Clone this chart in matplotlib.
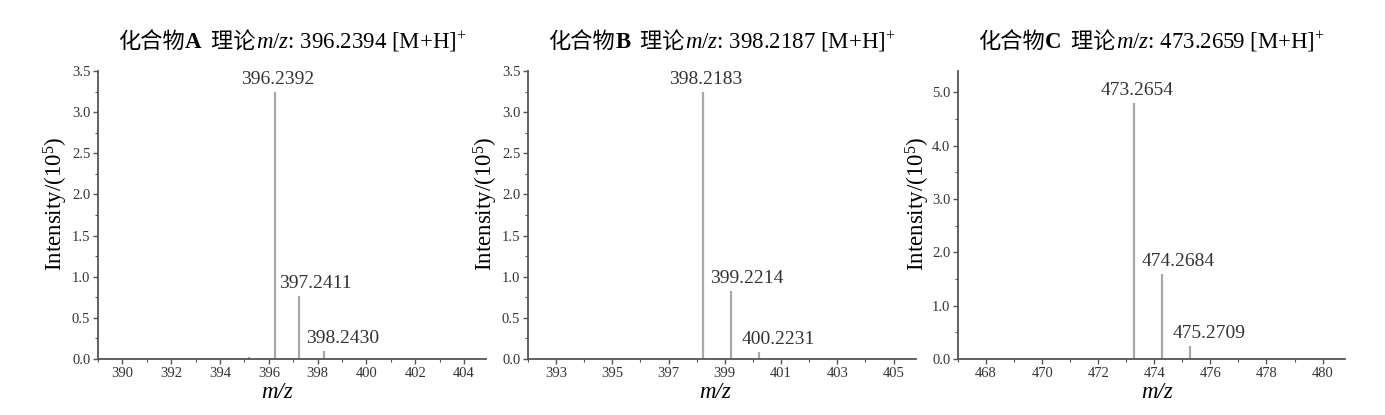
import matplotlib
matplotlib.use("Agg")
import matplotlib.pyplot as plt
from matplotlib.ticker import MultipleLocator

plt.rcParams['font.family'] = ['Liberation Serif', 'Noto Sans CJK SC']
plt.rcParams['mathtext.fontset'] = 'custom'
plt.rcParams['mathtext.rm'] = 'Liberation Serif'
plt.rcParams['mathtext.it'] = 'Liberation Serif:italic'
plt.rcParams['mathtext.bf'] = 'Liberation Serif:bold'

# compound names and theoretical m/z
names = ['A', 'B', 'C']
theo_mz = [396.2394, 398.2187, 473.2659]

# measured peaks (m/z, intensity in 1e5); first three are the labelled isotopes
mz_a = [396.2392, 397.2411, 398.2430, 391.26, 392.19, 393.22, 395.20, 399.24, 399.55, 403.30]
int_a = [3.24, 0.77, 0.10, 0.01, 0.01, 0.01, 0.02, 0.01, 0.01, 0.01]

mz_b = [398.2183, 399.2214, 400.2231, 393.18, 395.14, 396.20, 401.15, 402.20, 403.90]
int_b = [3.24, 0.83, 0.09, 0.01, 0.01, 0.01, 0.01, 0.01, 0.01]

mz_c = [473.2654, 474.2684, 475.2709, 476.24, 479.10]
int_c = [4.80, 1.59, 0.236, 0.02, 0.01]

xlims = [(389.0, 404.9), (392.0, 405.8), (467.0, 480.8)]
ylims = [3.5, 3.5, 5.4]
x_major = [[390, 392, 394, 396, 398, 400, 402, 404],
           [393, 395, 397, 399, 401, 403, 405],
           [468, 470, 472, 474, 476, 478, 480]]
y_major = [[0.0, 0.5, 1.0, 1.5, 2.0, 2.5, 3.0, 3.5],
           [0.0, 0.5, 1.0, 1.5, 2.0, 2.5, 3.0, 3.5],
           [0.0, 1.0, 2.0, 3.0, 4.0, 5.0]]
y_minor = [0.25, 0.25, 0.5]

W, H = 1385, 415
fig = plt.figure(figsize=(W / 100, H / 100), dpi=100)

# axes boxes in pixels: left, bottom, width, height
boxes = [(98, 56, 388, 288), (528, 56, 388, 288), (958, 56, 387, 288)]
xlabel_x = [0.461, 0.481, 0.515]
ylabel_x = [-0.073, -0.073, -0.068]
# label offsets (pixels) from peak top for the 3 labelled peaks
lab_dx = [3, 16, 19]
lab_dy = 8

peaks = [(mz_a, int_a), (mz_b, int_b), (mz_c, int_c)]
axis_col = '#555555'
text_col = '#333333'

axes = []
for i, (mz, inten) in enumerate(peaks):
    l, b, w, h = boxes[i]
    ax = fig.add_axes([l / W, b / H, w / W, h / H])
    axes.append(ax)
    ax.vlines(mz, 0, inten, color='#a8a8a8', lw=1.6)
    for k in range(3):
        ax.annotate(f"{mz[k]:.4f}", xy=(mz[k], inten[k]), xytext=(lab_dx[k], lab_dy),
                    textcoords='offset pixels', ha='center', va='baseline',
                    fontsize=14, color=text_col)
    ax.set_xlim(*xlims[i])
    ax.set_ylim(0, ylims[i])
    ax.set_xticks(x_major[i])
    ax.xaxis.set_minor_locator(MultipleLocator(1))
    ax.set_yticks(y_major[i])
    ax.set_yticklabels([f"{v:.1f}" for v in y_major[i]])
    ax.yaxis.set_minor_locator(MultipleLocator(y_minor[i]))
    for s in ['top', 'right']:
        ax.spines[s].set_visible(False)
    for s in ['left', 'bottom']:
        ax.spines[s].set_color(axis_col)
        ax.spines[s].set_linewidth(1.3)
    ax.tick_params(which='major', direction='out', length=3.5, width=1.0,
                   color=axis_col, labelsize=10.5, labelcolor=text_col, pad=2)
    ax.tick_params(which='minor', direction='out', length=2, width=0.8, color=axis_col)
    ax.set_ylabel('Intensity/(10$^{5}$)', fontsize=16.5, color='black')
    ax.yaxis.set_label_coords(ylabel_x[i], 0.54)
    ax.set_xlabel('m/z', fontsize=16.5, style='italic', color='black')
    ax.xaxis.set_label_coords(xlabel_x[i], -0.08)

# titles built from pieces with different fonts, centred over each axes
renderer = fig.canvas.get_renderer()
title_base = 1 - 48 / H
cjk = dict(family='Noto Sans CJK SC', fontsize=16)
for i, ax in enumerate(axes):
    pieces = [("化合物", cjk),
              (names[i], dict(family='Liberation Serif', weight='bold', fontsize=16.5)),
              ("  理论", cjk),
              (f"$m/z$: {theo_mz[i]:.4f} [M+H]$^{{+}}$", dict(family='Liberation Serif', fontsize=16.5))]
    texts = []
    x = 0.0
    for s, kw in pieces:
        t = fig.text(x, title_base, s, va='baseline', ha='left', color='black', **kw)
        wpx = t.get_window_extent(renderer).width
        texts.append((t, x))
        x += wpx / W
    l, b, w, h = boxes[i]
    x0 = (l + w / 2) / W - x / 2
    for t, xx in texts:
        t.set_x(x0 + xx)

fig.savefig('out.png', dpi=100)
